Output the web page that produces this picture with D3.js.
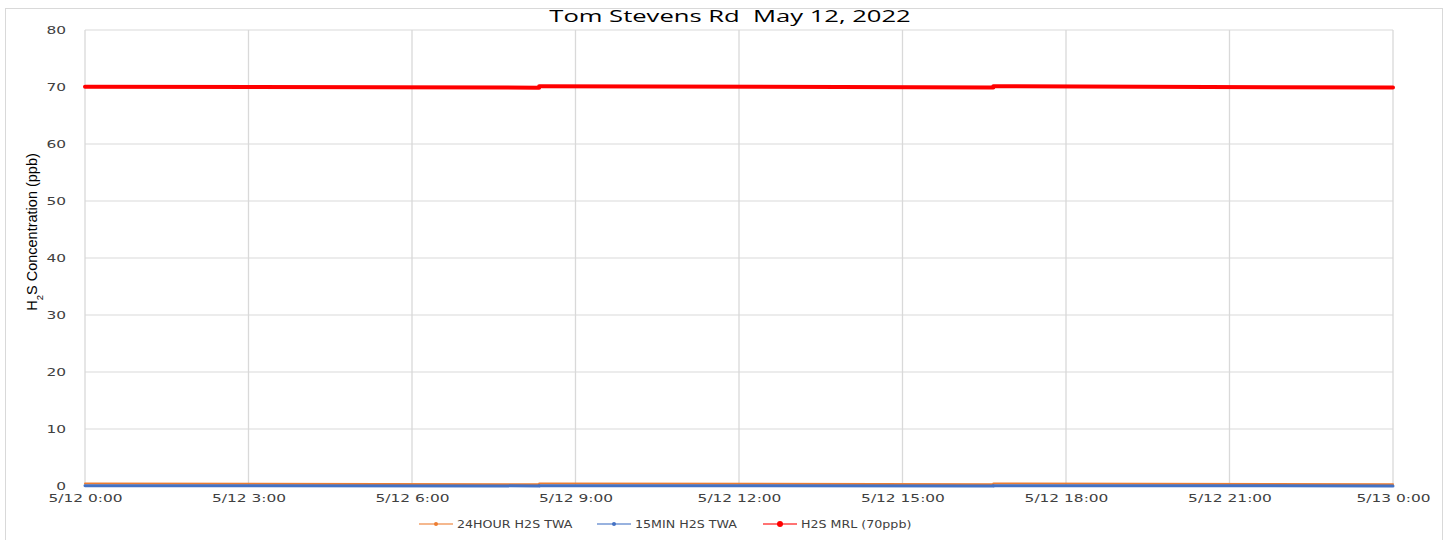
<!DOCTYPE html>
<html>
<head>
<meta charset="utf-8">
<script src="https://cdn.jsdelivr.net/npm/d3@7/dist/d3.min.js"></script>
<style>
  body { margin: 0; background: #fff; }
  svg { display: block; }
</style>
</head>
<body>
<script>
const segStart = ["2022-05-12T00:00", "2022-05-12T08:20", "2022-05-12T16:40"];
const segEnd = ["2022-05-12T08:20", "2022-05-12T16:40", "2022-05-13T00:00"];
const mrlStart = [70.05, 70.15, 70.15];
const mrlEnd = [69.88, 69.9, 69.9];
const twa24Start = [0.45, 0.45, 0.45];
const twa24End = [0.3, 0.3, 0.3];
const twa15Start = [0.05, 0.05, 0.05];
const twa15End = [0.02, 0.02, 0.02];
const yTicks = [0, 10, 20, 30, 40, 50, 60, 70, 80];
const xTickLabels = ["5/12 0:00", "5/12 3:00", "5/12 6:00", "5/12 9:00", "5/12 12:00",
  "5/12 15:00", "5/12 18:00", "5/12 21:00", "5/13 0:00"];
const seriesNames = ["24HOUR H2S TWA", "15MIN H2S TWA", "H2S MRL (70ppb)"];

const W = 1450, H = 540;
const margin = {left: 85, right: 57, top: 30, bottom: 54};
const parse = d3.timeParse("%Y-%m-%dT%H:%M");
const tickFont = "'DejaVu Sans', sans-serif";

const svg = d3.select("body").append("svg").attr("width", W).attr("height", H);

// outer chart border
svg.append("rect").attr("x", 5.5).attr("y", 8.5).attr("width", 1437).attr("height", 540)
  .attr("fill", "none").attr("stroke", "#d9d9d9");

const x = d3.scaleTime()
  .domain([parse("2022-05-12T00:00"), parse("2022-05-13T00:00")])
  .range([margin.left, W - margin.right]);
const y = d3.scaleLinear().domain([0, 80]).range([H - margin.bottom, margin.top]);

const xTicks = d3.range(xTickLabels.length).map(i => d3.timeHour.offset(x.domain()[0], i * 3));

// grid
svg.append("g").selectAll("line").data(yTicks).join("line")
  .attr("x1", margin.left).attr("x2", W - margin.right)
  .attr("y1", d => y(d)).attr("y2", d => y(d))
  .attr("stroke", "#d9d9d9").attr("stroke-width", 1);
svg.append("g").selectAll("line").data(xTicks).join("line")
  .attr("x1", d => x(d)).attr("x2", d => x(d))
  .attr("y1", y(80)).attr("y2", y(0))
  .attr("stroke", "#d9d9d9").attr("stroke-width", 1.3);

// axes (the picture is stretched sideways, so the text is too)
const yAxis = svg.append("g").attr("transform", `translate(${margin.left - 19},0)`)
  .call(d3.axisLeft(y).tickValues(yTicks).tickSize(0).tickPadding(0));
const xAxis = svg.append("g").attr("transform", `translate(0,${y(0) + 8})`)
  .call(d3.axisBottom(x).tickValues(xTicks).tickSize(0).tickPadding(0)
    .tickFormat((d, i) => xTickLabels[i]));
[yAxis, xAxis].forEach(a => {
  a.select(".domain").remove();
  a.selectAll("text").attr("fill", "#404040").attr("transform", "scale(1.4,1)")
    .style("font-family", tickFont).style("font-size", "11px");
});
yAxis.selectAll("text").attr("dy", "0.35em");
xAxis.selectAll("text").attr("dy", "0.75em");

// lines
const line = d3.line().x(d => x(d[0])).y(d => y(d[1]));
function segs(startVals, endVals) {
  return segStart.map((s, i) => [[parse(s), startVals[i]], [parse(segEnd[i]), endVals[i]]]);
}
const series = [
  {data: segs(twa24Start, twa24End), color: "#ed7d31", width: 2},
  {data: segs(twa15Start, twa15End), color: "#4472c4", width: 3},
  {data: segs(mrlStart, mrlEnd), color: "#ff0000", width: 4}
];
series.forEach(s => {
  svg.append("g").selectAll("path").data(s.data).join("path")
    .attr("d", line).attr("fill", "none")
    .attr("stroke", s.color).attr("stroke-width", s.width).attr("stroke-linecap", "round");
});

// title
svg.append("text").attr("transform", "translate(730,22) scale(1.6,1)").attr("text-anchor", "middle")
  .style("font-family", "'Open Sans', sans-serif").style("font-size", "16px")
  .style("white-space", "pre").attr("fill", "#000")
  .text("Tom Stevens Rd  May 12, 2022");

// y label
const yl = svg.append("text").attr("transform", "translate(37,232) rotate(-90)")
  .attr("text-anchor", "middle")
  .style("font-family", "'Liberation Sans Narrow', 'Liberation Sans', sans-serif")
  .style("font-size", "14.5px").attr("fill", "#000");
yl.append("tspan").text("H");
yl.append("tspan").attr("baseline-shift", "sub").style("font-size", "9.5px").text("2");
yl.append("tspan").text("S Concentration (ppb)");

// legend
const legX = [419, 597, 763];
const leg = svg.append("g").selectAll("g").data(seriesNames).join("g")
  .attr("transform", (d, i) => `translate(${legX[i]},524)`);
leg.append("line").attr("x1", 0).attr("x2", 34)
  .attr("stroke", (d, i) => series[i].color).attr("stroke-opacity", 0.55).attr("stroke-width", 2);
leg.append("circle").attr("cx", 17).attr("r", (d, i) => i === 2 ? 3 : 2)
  .attr("fill", (d, i) => series[i].color);
leg.append("text").attr("transform", "translate(38,0) scale(1.15,1)").attr("dy", "0.35em")
  .style("font-family", tickFont).style("font-size", "11px").attr("fill", "#404040")
  .text(d => d);
</script>
</body>
</html>
